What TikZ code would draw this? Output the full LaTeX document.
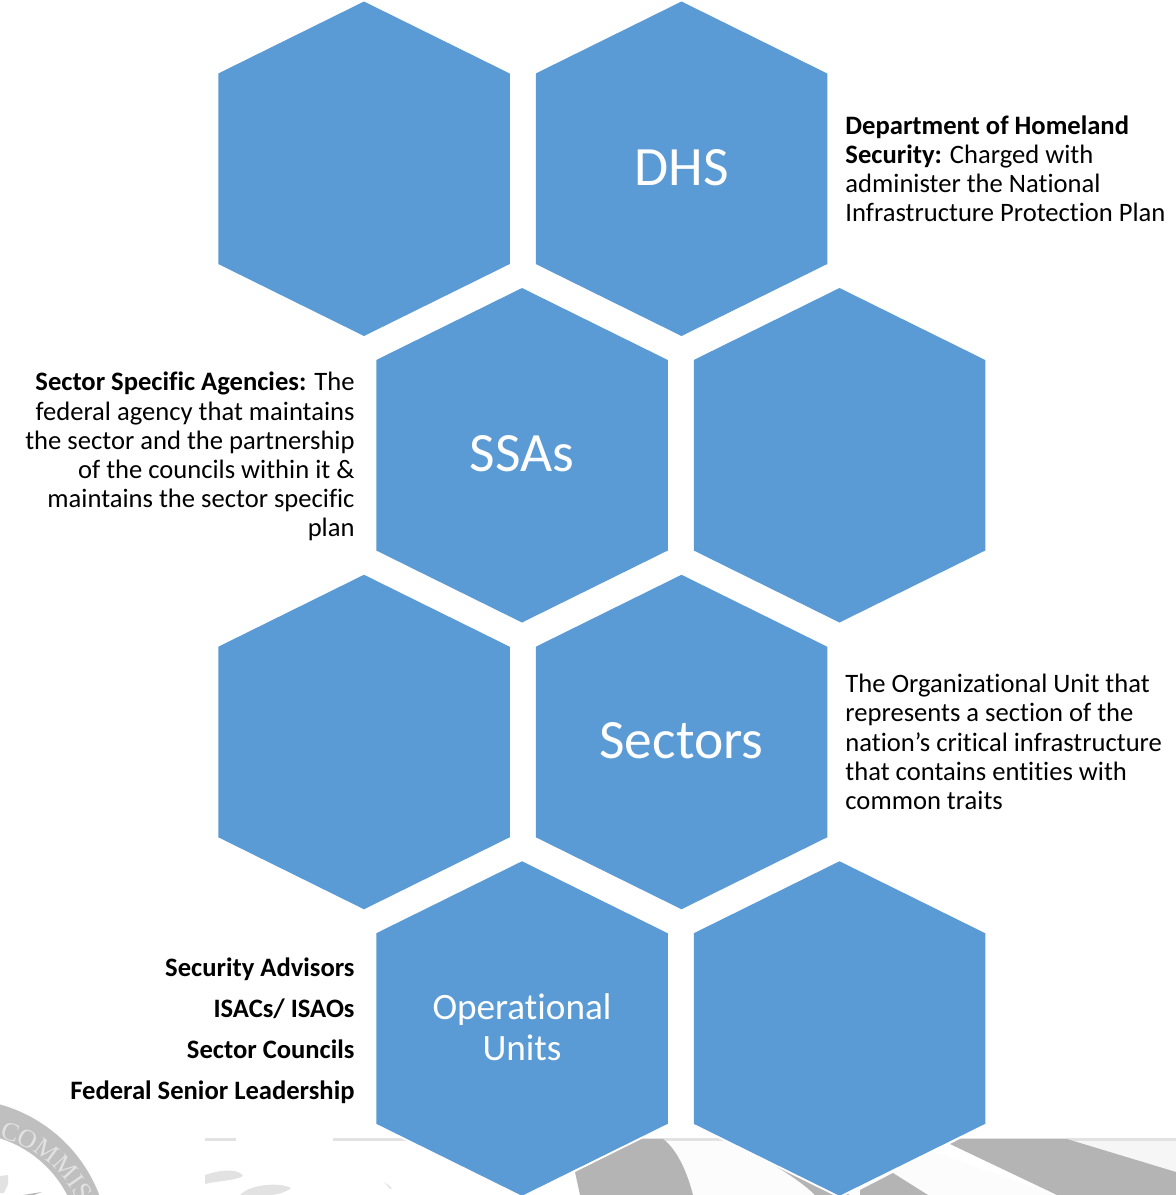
\documentclass[tikz,border=0pt]{standalone}
\usepackage{fontspec}
\setmainfont[Ligatures=NoCommon]{Carlito}
\newfontfamily\sealfont{Liberation Serif}
\usepackage{xcolor}
\usetikzlibrary{positioning,decorations.text}
\definecolor{hexblue}{HTML}{5B9BD5}
\definecolor{markgray}{HTML}{B4B4B4}
\definecolor{markpale}{HTML}{E2E2E2}
\tikzset{
  hexcell/.style={rectangle,inner sep=0pt,outer sep=0pt,
    minimum width=291.5pt,minimum height=334.5pt,text=white,align=center,
    path picture={
      \path[preaction={draw=white,line width=4pt},fill=hexblue]
        (path picture bounding box.north)
        -- ([yshift=-72pt]path picture bounding box.north east)
        -- ([yshift=72pt]path picture bounding box.south east)
        -- (path picture bounding box.south)
        -- ([yshift=72pt]path picture bounding box.south west)
        -- ([yshift=-72pt]path picture bounding box.north west) -- cycle;
    }},
  bigtitle/.style={font=\fontsize{55.5}{60}\selectfont,text depth=3pt},
  smalltitle/.style={font=\fontsize{37.2}{41}\selectfont,text depth=2pt},
  notes/.style={font=\fontsize{26.6}{29.2}\selectfont,inner sep=0pt,text=black},
  markband/.style={fill=markgray,draw=none},
}
\begin{document}
\begin{tikzpicture}[x=1pt,y=-1pt,node distance=317.5pt]
\useasboundingbox (0,0) rectangle (1176,1195);
\begin{scope}
\clip (0,0) rectangle (1176,1195);
% seal
\fill[markgray!85] (-40,1248) circle (149);
\fill[white] (-35,1248) circle (115);
\path[postaction={decorate,decoration={text along path,
  text={|\sealfont\fontsize{26}{26}\selectfont\color{markpale}|COMMIS},text align={left indent=0pt}}}]
  (-0.7,1137.6) arc[start angle=-76,end angle=0,radius=121];
\fill[markpale] (0,1176) -- (8,1175) -- (8,1184) -- (4,1193) -- (0,1193) -- cycle;
\fill[markgray] (23,1195) -- (42,1192) -- (34,1195) -- cycle;
% wings
\fill[markgray!4] (663,1140) -- (900,1140) -- (1057,1195) -- (693,1195) -- cycle;
\fill[markgray!12] (1067,1140) -- (1176,1140) -- (1176,1195) -- (1057,1195) -- cycle;
\fill[markpale] (205,1138) rectangle (236,1140.5);
\fill[markpale] (333,1138) rectangle (420,1140.5);
\fill[markpale] (640,1138) rectangle (1176,1140.5);
\fill[markpale] (205,1175) .. controls (225,1168) and (240,1170) .. (243,1176) .. controls (235,1181) and (215,1181) .. (205,1184) -- cycle;
\fill[markpale] (240,1195) .. controls (250,1184) and (280,1182) .. (291,1188) .. controls (285,1193) and (275,1195) .. (270,1195) -- cycle;
\fill[markpale] (384,1182) -- (392,1188) -- (390,1189) -- cycle;
% bands
\fill[markband] (575,1172) -- (640,1139) -- (663,1139) .. controls (678,1150) and (688,1175) .. (693,1195) -- (580,1195) -- cycle;
\fill[markband] (765,1155) -- (777,1167) .. controls (790,1175) and (805,1185) .. (815,1195) -- (850,1195) -- cycle;
\fill[markband] (860,1190) -- (893,1173) -- (928,1195) -- (860,1195) -- cycle;
\fill[markband] (950,1144) -- (960,1139) -- (1067,1139) -- (1176,1172) -- (1176,1195) -- (1057,1195) -- cycle;
\end{scope}
% hexagons
\node[hexcell] (blanka) at (364,168.75) {};
\node[hexcell,bigtitle,right of=blanka] (dhs) {DHS};
\node[hexcell,bigtitle] (ssas) at (522,455.25) {SSAs};
\node[hexcell,right of=ssas] (blankb) {};
\node[hexcell] (blankc) at (364,742) {};
\node[hexcell,bigtitle,right of=blankc] (sectors) {Sectors};
\node[hexcell,smalltitle] (units) at (522,1028.5) {Operational\\Units};
\node[hexcell,right of=units] (blankd) {};
% notes
\node[notes,align=left,right=18pt of dhs] (dhsnote)
  {\textbf{Department of Homeland}\\\textbf{Security:} Charged with\\administer the National\\Infrastructure Protection Plan};
\node[notes,align=right,left=21.5pt of ssas,yshift=-1.5pt] (ssasnote)
  {\textbf{Sector Specific Agencies:} The\\federal agency that maintains\\the sector and the partnership\\of the councils within it \&\\maintains the sector specific\\plan};
\node[notes,align=left,right=18pt of sectors] (sectorsnote)
  {The Organizational Unit that\\represents a section of the\\nation’s critical infrastructure\\that contains entities with\\common traits};
\node[notes,align=right,left=21.5pt of units,yshift=-2pt] (unitsnote)
  {\textbf{Security Advisors}\\[11.8pt]\textbf{ISACs/ ISAOs}\\[11.8pt]\textbf{Sector Councils}\\[11.8pt]\textbf{Federal Senior Leadership}};
\end{tikzpicture}
\end{document}
